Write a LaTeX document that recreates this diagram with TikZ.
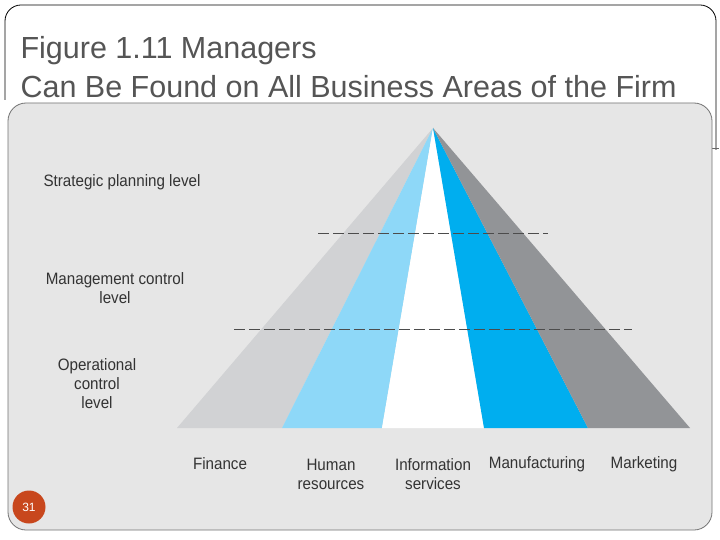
\documentclass[tikz,border=0pt]{standalone}
\usepackage{fontspec}
\setmainfont{Liberation Sans}
\definecolor{panel}{HTML}{E6E6E6}
\definecolor{fin}{HTML}{D1D2D4}
\definecolor{hr}{HTML}{8ED8F8}
\definecolor{mfg}{HTML}{00AEEF}
\definecolor{mkt}{HTML}{929497}
\definecolor{txt}{HTML}{555555}
\definecolor{badge}{HTML}{C8471D}
\begin{document}
\begin{tikzpicture}[x=1pt,y=-1pt,
  lbl/.style={font=\fontsize{16.5}{19}\selectfont, text=black!80, align=center, xscale=0.92}]
\useasboundingbox (0,0) rectangle (720,540);
\fill[white] (0,0) rectangle (720,540);
\draw[black, line width=0.8pt, rounded corners=16pt] (5,100) -- (5,5) -- (716,5) -- (716,150);
\draw[black!60, line width=0.6pt] (712,148) -- (719,148);
\node[anchor=west, text=txt, font=\fontsize{30.5}{39}\selectfont, align=left] (title) at (17,67) {Figure 1.11 Managers\\Can Be Found on All Business Areas of the Firm};
\draw[black!55, line width=0.8pt, fill=panel, rounded corners=18pt] (8,103) rectangle (712,530);
\coordinate (apex) at (433,128);
\fill[fin] (apex) -- (177,428) -- (282,428) -- cycle;
\fill[hr] (apex) -- (282,428) -- (382,428) -- cycle;
\fill[white] (apex) -- (382,428) -- (484,428) -- cycle;
\fill[mfg] (apex) -- (484,428) -- (588,428) -- cycle;
\fill[mkt] (apex) -- (588,428) -- (690,428) -- cycle;
\coordinate (d1a) at (318,233); \coordinate (d1b) at (548,233);
\coordinate (d2a) at (234,329); \coordinate (d2b) at (632,329);
\draw[black!70, dash pattern=on 11pt off 4pt, line width=0.7pt] (d1a) -- (d1b);
\draw[black!70, dash pattern=on 11pt off 4pt, line width=0.7pt] (d2a) -- (d2b);
\node[lbl] (s) at (122,182) {Strategic planning level};
\node[lbl] (m) at (115,288) {Management control\\level};
\node[lbl] (o) at (97,384) {Operational\\control\\level};
\node[lbl] (f) at (220,464) {Finance};
\node[lbl] (h) at (331,474) {Human\\resources};
\node[lbl] (i) at (433,474) {Information\\services};
\node[lbl] (mf) at (537,464) {Manufacturing};
\node[lbl] (mk) at (644,464) {Marketing};
\node[circle, fill=badge, minimum size=33pt, inner sep=0pt, text=white, font=\fontsize{12}{14}\selectfont] (pg) at (29,507) {31};
\end{tikzpicture}
\end{document}
